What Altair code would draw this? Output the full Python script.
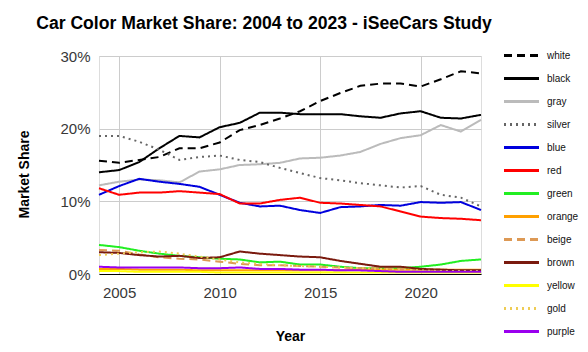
import altair as alt
import pandas as pd

years = list(range(2004, 2024))

names = ["white", "black", "gray", "silver", "blue", "red", "green",
         "orange", "beige", "brown", "yellow", "gold", "purple"]

white = [15.6, 15.3, 15.7, 16.1, 17.3, 17.3, 18.1, 19.8, 20.5, 21.4, 22.4, 23.8, 24.9, 25.9, 26.2, 26.2, 25.8, 26.8, 27.9, 27.6]
black = [14.0, 14.3, 15.4, 17.3, 19.0, 18.8, 20.2, 20.8, 22.2, 22.2, 22.0, 22.0, 22.0, 21.7, 21.5, 22.1, 22.4, 21.5, 21.4, 21.9]
gray = [12.2, 12.7, 13.0, 12.9, 12.6, 14.1, 14.4, 15.0, 15.1, 15.3, 15.9, 16.0, 16.3, 16.8, 17.9, 18.7, 19.1, 20.5, 19.6, 21.2]
silver = [19.0, 19.0, 18.2, 17.1, 15.7, 16.1, 16.3, 15.7, 15.4, 14.6, 13.9, 13.2, 12.9, 12.5, 12.2, 11.9, 12.1, 10.9, 10.5, 9.3]
blue = [10.9, 12.1, 13.1, 12.7, 12.4, 12.0, 10.9, 9.8, 9.3, 9.4, 8.8, 8.4, 9.2, 9.3, 9.5, 9.4, 9.9, 9.8, 9.9, 8.8]
red = [11.8, 10.9, 11.2, 11.2, 11.4, 11.2, 11.0, 9.7, 9.7, 10.2, 10.5, 9.8, 9.7, 9.5, 9.3, 8.6, 7.9, 7.7, 7.6, 7.4]
green = [4.0, 3.7, 3.2, 2.8, 2.5, 2.3, 2.1, 2.0, 1.6, 1.7, 1.3, 1.3, 1.0, 0.8, 0.8, 0.8, 1.0, 1.3, 1.8, 2.0]
orange = [0.7, 0.7, 0.6, 0.6, 0.6, 0.5, 0.5, 0.5, 0.5, 0.5, 0.5, 0.5, 0.5, 0.6, 0.6, 0.6, 0.6, 0.6, 0.6, 0.6]
beige = [3.3, 3.2, 2.7, 2.3, 2.1, 2.0, 1.7, 1.4, 1.2, 1.2, 1.1, 1.0, 0.9, 0.8, 0.8, 0.7, 0.6, 0.6, 0.5, 0.5]
brown = [3.0, 2.9, 2.6, 2.4, 2.5, 2.2, 2.3, 3.1, 2.8, 2.6, 2.4, 2.3, 1.8, 1.4, 1.0, 1.0, 0.7, 0.6, 0.5, 0.5]
yellow = [0.4, 0.4, 0.3, 0.3, 0.3, 0.3, 0.2, 0.2, 0.2, 0.2, 0.2, 0.2, 0.2, 0.2, 0.2, 0.2, 0.2, 0.2, 0.2, 0.2]
gold = [2.6, 2.8, 3.0, 3.1, 2.8, 2.4, 2.0, 1.6, 1.4, 1.2, 1.1, 1.0, 0.9, 0.8, 0.7, 0.6, 0.5, 0.4, 0.4, 0.4]
purple = [1.0, 0.9, 0.9, 0.9, 0.9, 0.8, 0.8, 0.9, 0.7, 0.7, 0.6, 0.6, 0.5, 0.5, 0.4, 0.3, 0.3, 0.3, 0.3, 0.3]

series = [white, black, gray, silver, blue, red, green, orange, beige, brown, yellow, gold, purple]

line_colors = ["#000000", "#000000", "#bbbbbb", "#666666", "#0000dd", "#ff0000", "#22ee22",
               "#ffa000", "#dd9955", "#7a1a0e", "#ffff00", "#eecc55", "#9a00ee"]
dashes = [[8, 5], [1, 0], [1, 0], [2, 4], [1, 0], [1, 0], [1, 0],
          [1, 0], [8, 5], [1, 0], [1, 0], [2, 4], [1, 0]]

rows = []
for i, (n, vals) in enumerate(zip(names, series)):
    for yr, v in zip(years, vals):
        rows.append({"Year": yr, "share": v, "color": n, "ord": i})
df = pd.DataFrame(rows)

legend = alt.Legend(
    title=None, orient="none", legendX=403, legendY=-12,
    symbolType="stroke", symbolSize=1225, symbolStrokeWidth=3.2,
    labelFontSize=10, labelFont="Liberation Sans", labelColor="#111111",
    clipHeight=23, rowPadding=0, labelOffset=6, symbolOpacity=1,
)

chart = alt.Chart(df).mark_line(strokeWidth=2).encode(
    x=alt.X("Year:Q",
            scale=alt.Scale(domain=[2004, 2023], nice=False, zero=False),
            axis=alt.Axis(values=[2005, 2010, 2015, 2020], format="d",
                          title="Year", titleFontSize=14, titleFontWeight="bold",
                          titleFont="Liberation Sans", titleColor="#000000",
                          titleBaseline="middle", titleY=62,
                          labelFontSize=15, labelFont="Liberation Sans",
                          labelColor="#383838", labelPadding=11,
                          ticks=False, domain=True, domainColor="#000000",
                          domainWidth=1.2, gridColor="#cccccc")),
    y=alt.Y("share:Q",
            scale=alt.Scale(domain=[0, 30], nice=False),
            axis=alt.Axis(values=[0, 10, 20, 30], labelExpr="datum.value + '%'",
                          title="Market Share", titleFontSize=14, titleFontWeight="bold",
                          titleFont="Liberation Sans", titleColor="#000000",
                          titleAngle=-90, titleBaseline="middle", titleAlign="center",
                          titleX=-75, titleY=118,
                          labelFontSize=15, labelFont="Liberation Sans",
                          labelColor="#383838", labelPadding=9,
                          ticks=False, domain=False, gridColor="#cccccc")),
    color=alt.Color("color:N", scale=alt.Scale(domain=names, range=line_colors),
                    sort=names, legend=legend),
    strokeDash=alt.StrokeDash("color:N", scale=alt.Scale(domain=names, range=dashes),
                              sort=names, legend=legend),
    order=alt.Order("ord:Q"),
).properties(
    width=382, height=218,
    title=alt.TitleParams("Car Color Market Share: 2004 to 2023 - iSeeCars Study",
                          fontSize=17.6, fontWeight="bold", font="Liberation Sans",
                          color="#000000", anchor="middle", dx=-26, offset=11),
    autosize=alt.AutoSizeParams(type="none"),
    padding={"left": 99, "top": 56, "right": 107, "bottom": 78},
).configure_view(stroke=None).configure(background="white")

chart.save("out.html", embed_options={"renderer": "svg", "actions": False})
